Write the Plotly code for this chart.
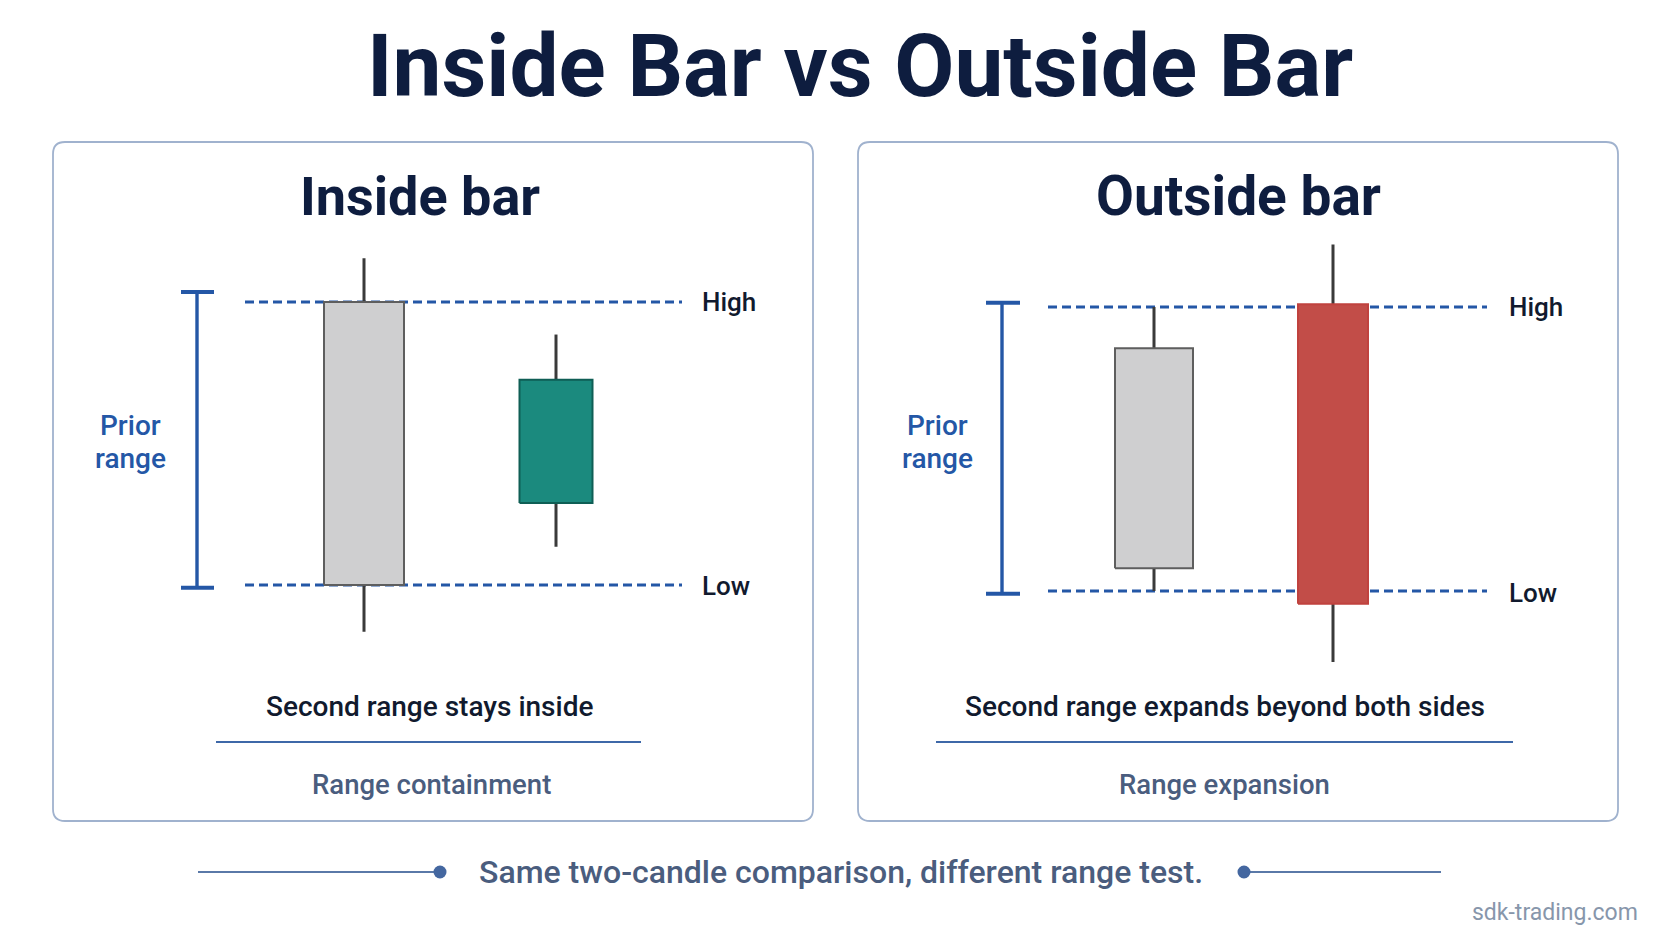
import plotly.graph_objects as go

W, H = 1672, 941

# ---------------- data ----------------
candle_x = [1, 2]
# Inside bar panel: prior candle (gray) and inside candle (teal)
inside_open = [100.0, 105.8]
inside_close = [120.0, 114.5]
inside_high = [123.1, 117.7]
inside_low = [96.7, 102.7]
inside_prior_high = 120.0
inside_prior_low = 100.0

# Outside bar panel: prior candle (gray) and outside candle (red)
outside_open = [101.6, 120.2]
outside_close = [117.1, 99.1]
outside_high = [120.0, 124.4]
outside_low = [100.0, 95.0]
outside_prior_high = 120.0
outside_prior_low = 100.0

title_text = "Inside Bar vs Outside Bar"
panel_titles = ["Inside bar", "Outside bar"]
panel_captions = ["Second range stays inside", "Second range expands beyond both sides"]
panel_tags = ["Range containment", "Range expansion"]
footer_text = "Same two-candle comparison, different range test."
watermark = "sdk-trading.com"

# ---------------- helpers ----------------
def px(x):
    return x / W

def py(y):
    return 1 - y / H

NAVY = "#0e1d3f"
BLUE = "#2457a6"
SLATE = "#4a5d7e"
GRAY_BODY = "#cfcfd0"
GRAY_EDGE = "#5e5e5e"
WICK = "#3a3a3a"

fig = go.Figure()

panels = [
    dict(xa="x", ya="y", xname="xaxis", yname="yaxis",
         o=inside_open, c=inside_close, h=inside_high, l=inside_low,
         ph=inside_prior_high, pl=inside_prior_low,
         xdom=(245, 682), c1=364, c2=556, yhi=302, ylo=585,
         bodyw=[80, 73], colors=[GRAY_BODY, "#1b8a7e"], edges=[GRAY_EDGE, "#0f5e55"]),
    dict(xa="x2", ya="y2", xname="xaxis2", yname="yaxis2",
         o=outside_open, c=outside_close, h=outside_high, l=outside_low,
         ph=outside_prior_high, pl=outside_prior_low,
         xdom=(1048, 1487), c1=1154, c2=1333, yhi=307, ylo=591,
         bodyw=[78, 70], colors=[GRAY_BODY, "#c24d48"], edges=[GRAY_EDGE, "#c0423e"]),
]

layout_axes = {}
for p in panels:
    ppu = (p["c2"] - p["c1"]) / (candle_x[1] - candle_x[0])
    x0 = candle_x[0] - (p["c1"] - p["xdom"][0]) / ppu
    x1 = candle_x[1] + (p["xdom"][1] - p["c2"]) / ppu
    ypu = (p["ylo"] - p["yhi"]) / (p["ph"] - p["pl"])
    y_top_val, y_bot_val = 130.0, 90.0
    y_top_px = p["yhi"] - (y_top_val - p["ph"]) * ypu
    y_bot_px = p["ylo"] + (p["pl"] - y_bot_val) * ypu
    layout_axes[p["xname"]] = dict(domain=[px(p["xdom"][0]), px(p["xdom"][1])], range=[x0, x1],
                                   visible=False, fixedrange=True, anchor=p["ya"])
    layout_axes[p["yname"]] = dict(domain=[py(y_bot_px), py(y_top_px)], range=[y_bot_val, y_top_val],
                                   visible=False, fixedrange=True, anchor=p["xa"])

    # dashed High / Low reference lines
    fig.add_trace(go.Scatter(x=[x0, x1, None, x0, x1], y=[p["ph"], p["ph"], None, p["pl"], p["pl"]],
                             mode="lines", line=dict(color=BLUE, width=2.8, dash="9px,5px"),
                             xaxis=p["xa"], yaxis=p["ya"], hoverinfo="skip", showlegend=False))
    # wicks
    wx, wy = [], []
    for xi, hi, lo in zip(candle_x, p["h"], p["l"]):
        wx += [xi, xi, None]
        wy += [lo, hi, None]
    fig.add_trace(go.Scatter(x=wx, y=wy, mode="lines", line=dict(color=WICK, width=3),
                             xaxis=p["xa"], yaxis=p["ya"], hoverinfo="skip", showlegend=False))
    # bodies (filled rectangles drawn on top of wicks and reference lines)
    for xi, o, c, bw, col, edge in zip(candle_x, p["o"], p["c"], p["bodyw"], p["colors"], p["edges"]):
        hw = bw / ppu / 2
        lo_b, hi_b = min(o, c), max(o, c)
        fig.add_trace(go.Scatter(x=[xi - hw, xi + hw, xi + hw, xi - hw, xi - hw],
                                 y=[lo_b, lo_b, hi_b, hi_b, lo_b],
                                 mode="lines", fill="toself", fillcolor=col,
                                 line=dict(color=edge, width=2),
                                 xaxis=p["xa"], yaxis=p["ya"], hoverinfo="skip", showlegend=False))

shapes = []
annotations = []

def rounded_rect(x0, y0, x1, y1, r):
    rx, ry = r / W, r / H
    X0, X1 = px(x0), px(x1)
    Y0, Y1 = py(y0), py(y1)
    return (f"M {X0+rx},{Y0} L {X1-rx},{Y0} Q {X1},{Y0} {X1},{Y0-ry} "
            f"L {X1},{Y1+ry} Q {X1},{Y1} {X1-rx},{Y1} "
            f"L {X0+rx},{Y1} Q {X0},{Y1} {X0},{Y1+ry} "
            f"L {X0},{Y0-ry} Q {X0},{Y0} {X0+rx},{Y0} Z")

for (bx0, bx1) in [(53, 813), (858, 1618)]:
    shapes.append(dict(type="path", xref="paper", yref="paper",
                       path=rounded_rect(bx0, 142, bx1, 821, 12),
                       line=dict(color="#a0b2ce", width=1.8), fillcolor="rgba(255,255,255,0)",
                       layer="below"))

bracket_specs = [
    ("y", 197, 181, 214, inside_prior_high + 0.7, inside_prior_low - 0.2),
    ("y2", 1002, 986, 1020, outside_prior_high + 0.3, outside_prior_low - 0.2),
]
for yref, bx, cx0, cx1, ytop, ybot in bracket_specs:
    shapes.append(dict(type="line", xref="paper", yref=yref, x0=px(bx), x1=px(bx), y0=ybot, y1=ytop,
                       line=dict(color=BLUE, width=3.4)))
    for yy in (ytop, ybot):
        shapes.append(dict(type="line", xref="paper", yref=yref, x0=px(cx0), x1=px(cx1), y0=yy, y1=yy,
                           line=dict(color=BLUE, width=4)))

for (lx0, lx1) in [(216, 641), (936, 1513)]:
    shapes.append(dict(type="line", xref="paper", yref="paper", x0=px(lx0), x1=px(lx1),
                       y0=py(742), y1=py(742), line=dict(color="#3e68a8", width=2.2)))

for (lx0, lx1) in [(198, 440), (1244, 1441)]:
    shapes.append(dict(type="line", xref="paper", yref="paper", x0=px(lx0), x1=px(lx1),
                       y0=py(872), y1=py(872), line=dict(color="#5a79a8", width=1.8)))
for dx in (440, 1244):
    r = 6.5
    shapes.append(dict(type="circle", xref="paper", yref="paper",
                       x0=px(dx - r), x1=px(dx + r), y0=py(872 + r), y1=py(872 - r),
                       fillcolor="#4467a0", line=dict(color="#4467a0", width=0)))

FONT = "Roboto"

def ann(text, x, y, size, color, weight=400, xanchor="center", align="center"):
    annotations.append(dict(text=text, x=px(x), y=py(y), xref="paper", yref="paper",
                            xanchor=xanchor, yanchor="middle", showarrow=False, align=align,
                            font=dict(family=FONT, size=size, color=color, weight=weight)))

ann(title_text, 860, 66, 87.3, NAVY, 700)
ann(panel_titles[0], 420, 196, 54, NAVY, 700)
ann(panel_titles[1], 1238, 196, 55, NAVY, 700)

for xh, yh, yl in [(700, 302, 586), (1507, 307, 593)]:
    ann("High", xh, yh, 26, "#111a2e", 500, xanchor="left")
    ann("Low", xh, yl, 26, "#111a2e", 500, xanchor="left")

for cx in (130, 937):
    ann("Prior", cx, 425, 28, BLUE, 500)
    ann("range", cx, 459, 28, BLUE, 500)

ann(panel_captions[0], 429, 706, 28, "#111a2e", 500)
ann(panel_captions[1], 1225, 706, 28, "#111a2e", 500)
ann(panel_tags[0], 431, 784, 27.5, SLATE, 500)
ann(panel_tags[1], 1224, 784, 27.5, SLATE, 500)

ann(footer_text, 841, 872, 32, SLATE, 500)
ann(watermark, 1640, 912, 23, "#8796ab", 400, xanchor="right")

fig.update_layout(
    width=W, height=H,
    margin=dict(l=0, r=0, t=0, b=0),
    paper_bgcolor="#ffffff", plot_bgcolor="rgba(0,0,0,0)",
    showlegend=False,
    shapes=shapes, annotations=annotations,
    **layout_axes,
)

fig.write_html("out.html", config={"displayModeBar": False})
